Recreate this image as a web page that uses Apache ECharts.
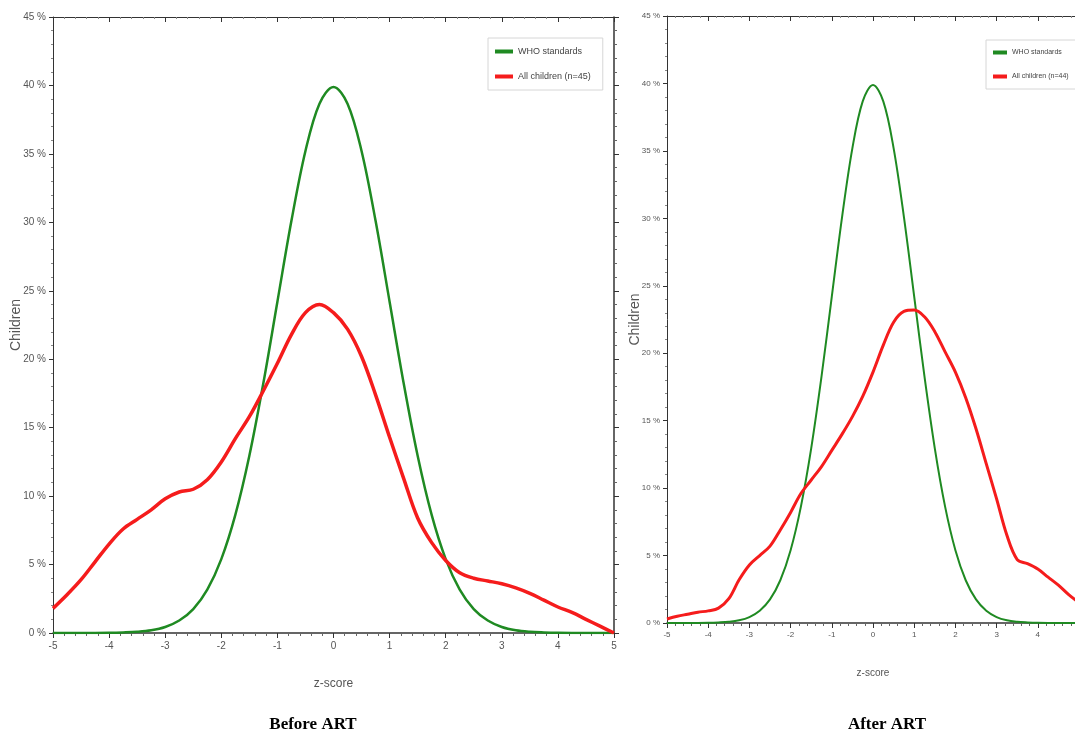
<!DOCTYPE html>
<html>
<head>
<meta charset="utf-8">
<script src="https://cdn.jsdelivr.net/npm/echarts@6/dist/echarts.min.js"></script>
<style>
  html, body { margin: 0; padding: 0; background: #fff; }
  #chart { width: 1075px; height: 742px; }
</style>
</head>
<body>
<div id="chart"></div>
<script>
// z-score positions shared by every curve
const zScores = [-5, -4.75, -4.5, -4.25, -4, -3.75, -3.5, -3.25, -3, -2.75, -2.5, -2.25, -2, -1.75, -1.5, -1.25, -1, -0.75, -0.5, -0.25,
    0, 0.25, 0.5, 0.75, 1, 1.25, 1.5, 1.75, 2, 2.25, 2.5, 2.75, 3, 3.25, 3.5, 3.75, 4, 4.25, 4.5, 4.75, 5];

// WHO reference curve (% of children), same in both panels
const whoValues = [0, 0, 0, 0, 0.01, 0.04, 0.09, 0.2, 0.44, 0.91, 1.75, 3.17, 5.4, 8.63, 12.95, 18.26, 24.2, 30.11, 35.21, 38.67,
    39.89, 38.67, 35.21, 30.11, 24.2, 18.26, 12.95, 8.63, 5.4, 3.17, 1.75, 0.91, 0.44, 0.2, 0.09, 0.04, 0.01, 0, 0, 0, 0];

// All children before ART (n=45)
const beforeValues = [1.8, 2.8, 3.9, 5.2, 6.5, 7.6, 8.3, 9.0, 9.8, 10.3, 10.5, 11.2, 12.5, 14.2, 15.8, 17.7, 19.7, 21.8, 23.4, 24.0,
    23.4, 22.2, 20.2, 17.4, 14.3, 11.3, 8.4, 6.6, 5.3, 4.4, 4.0, 3.8, 3.6, 3.3, 2.9, 2.4, 1.9, 1.5, 1.0, 0.5, 0];

// All children after ART (n=44)
const afterValues = [0.3, 0.5, 0.65, 0.8, 0.9, 1.1, 1.8, 3.2, 4.3, 5.0, 5.7, 6.9, 8.2, 9.6, 10.6, 11.6, 12.8, 14.0, 15.3, 16.8,
    18.6, 20.6, 22.3, 23.1, 23.2, 22.7, 21.6, 20.1, 18.6, 16.7, 14.4, 11.8, 9.2, 6.5, 4.7, 4.4, 4.0, 3.4, 2.8, 2.1, 1.5];

const panelTitles = ['Before ART', 'After ART'];
const whoName = 'WHO standards';
const beforeName = 'All children (n=45)';
const afterName = 'All children (n=44)';

const colorWho = '#1f8a22';
const colorKids = '#f51c1c';
const colorAxis = '#333';
const colorText = '#555';

function pairs(values) {
    return zScores.map(function (z, i) { return [z, values[i]]; });
}

function bottomAxis(gridIndex, fontSize, nameGap) {
    return {
        type: 'value', gridIndex: gridIndex, position: 'bottom',
        min: -5, max: 5, interval: 1,
        name: 'z-score', nameLocation: 'middle', nameGap: nameGap,
        nameTextStyle: { color: colorText, fontSize: fontSize + 2, fontFamily: 'Liberation Sans' },
        axisLine: { onZero: false, lineStyle: { color: colorAxis, width: 1.5 } },
        axisTick: { length: 5, lineStyle: { color: colorAxis } },
        minorTick: { show: true, splitNumber: 5, length: 3, lineStyle: { color: '#666' } },
        axisLabel: { color: colorText, fontSize: fontSize, margin: 8, fontFamily: 'Liberation Sans' },
        splitLine: { show: false }
    };
}

function topAxis(gridIndex) {
    return {
        type: 'value', gridIndex: gridIndex, position: 'top',
        min: -5, max: 5, interval: 1,
        axisLine: { onZero: false, lineStyle: { color: colorAxis, width: 1 } },
        axisTick: { inside: true, length: 5, lineStyle: { color: colorAxis } },
        minorTick: { show: true, splitNumber: 5, length: 2, lineStyle: { color: '#888' } },
        axisLabel: { show: false },
        splitLine: { show: false }
    };
}

function leftAxis(gridIndex, fontSize, nameGap) {
    return {
        type: 'value', gridIndex: gridIndex, position: 'left',
        min: 0, max: 45, interval: 5,
        name: 'Children', nameLocation: 'middle', nameGap: nameGap, nameMoveOverlap: false,
        nameTextStyle: { color: colorText, fontSize: 14, fontFamily: 'Liberation Sans' },
        axisLine: { show: true, onZero: false, lineStyle: { color: colorAxis, width: 1 } },
        axisTick: { show: true, length: 4, lineStyle: { color: colorAxis } },
        minorTick: { show: true, splitNumber: 5, length: 2, lineStyle: { color: '#888' } },
        axisLabel: { color: colorText, fontSize: fontSize, margin: 7, formatter: '{value} %', fontFamily: 'Liberation Sans' },
        splitLine: { show: false }
    };
}

function rightAxis(gridIndex) {
    return {
        type: 'value', gridIndex: gridIndex, position: 'right',
        min: 0, max: 45, interval: 5,
        axisLine: { show: true, onZero: false, lineStyle: { color: colorAxis, width: 1.5 } },
        axisTick: { show: true, inside: false, length: 5, lineStyle: { color: colorAxis } },
        minorTick: { show: true, splitNumber: 5, length: 3, lineStyle: { color: '#666' } },
        axisLabel: { show: false },
        splitLine: { show: false }
    };
}

function legend(names, left, top, fontSize, iconWidth, gap) {
    return {
        data: names, orient: 'vertical', left: left, top: top,
        icon: 'rect', itemWidth: iconWidth, itemHeight: 4, itemGap: gap,
        padding: [9, 12, 9, 7],
        borderColor: '#d6d6d6', borderWidth: 1, backgroundColor: '#fff',
        textStyle: { color: '#444', fontSize: fontSize, fontFamily: 'Liberation Sans' }
    };
}

function curve(name, values, color, width, axisIndex) {
    return {
        name: name, type: 'line', smooth: 0.35, showSymbol: false,
        xAxisIndex: axisIndex, yAxisIndex: axisIndex,
        data: pairs(values),
        lineStyle: { color: color, width: width },
        itemStyle: { color: color },
        z: 3
    };
}

const option = {
    animation: false,
    backgroundColor: '#fff',
    grid: [
        { left: 53, top: 17, width: 561, height: 616, outerBoundsMode: 'none', containLabel: false },
        { left: 667, top: 16, width: 412, height: 607, outerBoundsMode: 'none', containLabel: false }
    ],
    xAxis: [bottomAxis(0, 10, 45), topAxis(0), bottomAxis(1, 8, 45), topAxis(1)],
    yAxis: [leftAxis(0, 10, 30), rightAxis(0), leftAxis(1, 8, 25), rightAxis(1)],
    legend: [
        legend([whoName, beforeName], 488, 38, 9, 18, 16),
        legend([whoName, afterName], 986, 40, 7, 14, 17)
    ],
    series: [
        curve(whoName, whoValues, colorWho, 2.5, 0),
        curve(beforeName, beforeValues, colorKids, 3.5, 0),
        curve(whoName, whoValues, colorWho, 2, 2),
        curve(afterName, afterValues, colorKids, 3, 2)
    ],
    graphic: [
        {
            type: 'text', x: 313, y: 716,
            style: { text: panelTitles[0], fill: '#000', font: 'bold 17px "Liberation Serif"', textAlign: 'center' }
        },
        {
            type: 'text', x: 887, y: 716,
            style: { text: panelTitles[1], fill: '#000', font: 'bold 17px "Liberation Serif"', textAlign: 'center' }
        }
    ]
};

const chart = echarts.init(document.getElementById('chart'));
chart.setOption(option);
</script>
</body>
</html>
